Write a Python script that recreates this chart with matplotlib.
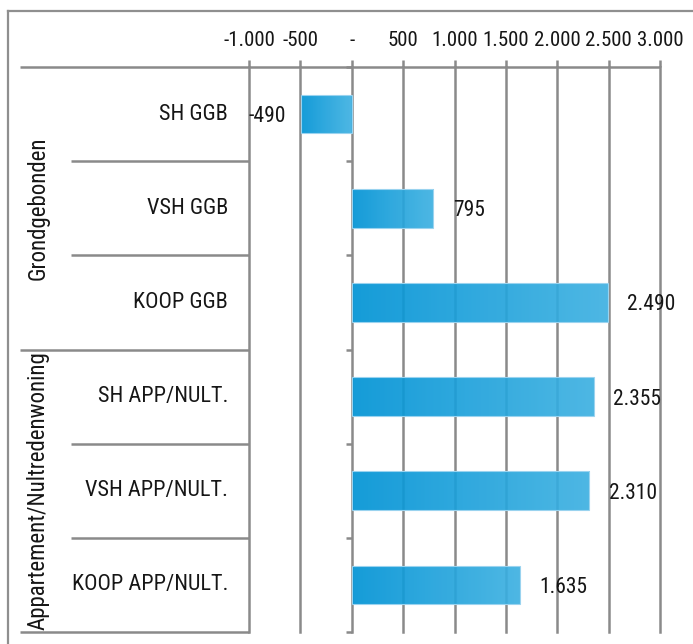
import matplotlib
matplotlib.use("Agg")
import matplotlib.pyplot as plt
import matplotlib.transforms as mtransforms
from matplotlib import font_manager
from matplotlib.colors import LinearSegmentedColormap
from matplotlib.lines import Line2D
import numpy as np

# --- data -------------------------------------------------------------
categories = ["SH GGB", "VSH GGB", "KOOP GGB",
              "SH APP/NULT.", "VSH APP/NULT.", "KOOP APP/NULT."]
values = [-490, 795, 2490, 2355, 2310, 1635]
value_labels = ["-490", "795", "2.490", "2.355", "2.310", "1.635"]
groups = ["Grondgebonden", "Appartement/Nultredenwoning"]
group_sizes = [3, 3]
x_ticks = [-1000, -500, 0, 500, 1000, 1500, 2000, 2500, 3000]
x_tick_labels = ["-1.000", "-500", "-", "500", "1.000", "1.500",
                 "2.000", "2.500", "3.000"]

# --- font: prefer a narrow sans ----------------------------------------
names = {f.name for f in font_manager.fontManager.ttflist}
family = next((n for n in ["Roboto Condensed", "Liberation Sans Narrow",
                           "Open Sans Condensed", "Roboto"] if n in names),
              "DejaVu Sans")
plt.rcParams["font.family"] = [family, "DejaVu Sans"]
FS_TICK = 15
FS_CAT = 16
FS_GROUP = 16.5
FS_VAL = 15.5
TXT = "#161616"
GRID = "#8a8a8a"

W, H = 693, 644
fig = plt.figure(figsize=(W / 100, H / 100), dpi=100)


def fx(px):
    return px / W


def fy(py):
    return 1 - py / H


ax = fig.add_axes([fx(249), fy(632), fx(660) - fx(249), fy(67) - fy(632)])
xlim = (x_ticks[0], x_ticks[-1])
ylim = (len(categories) - 0.5, -0.5)

# bars with a left-to-right blue gradient
ypos = np.arange(len(categories))
bars = ax.barh(ypos, values, height=0.41, color="none",
               edgecolor="#9ad3ef", linewidth=0.8, zorder=4)
cmap = LinearSegmentedColormap.from_list("bar_blue", ["#0093d5", "#3eb1e2"])
grad = np.linspace(0, 1, 256).reshape(1, -1)
for bar in bars:
    x0, y0, w, h = bar.get_x(), bar.get_y(), bar.get_width(), bar.get_height()
    xa, xb = min(x0, x0 + w), max(x0, x0 + w)
    im = ax.imshow(grad, extent=[xa, xb, y0 + h, y0], aspect="auto",
                   cmap=cmap, alpha=0.92, zorder=3, interpolation="bilinear")
    im.set_clip_path(bar)
ax.set_xlim(*xlim)
ax.set_ylim(*ylim)

# vertical grid lines
for t in x_ticks:
    ax.axvline(t, color=GRID, lw=1.8, zorder=1, clip_on=False)

for s in ax.spines.values():
    s.set_visible(False)

# x ticks on top
ax.xaxis.tick_top()
ax.set_xticks(x_ticks)
ax.set_xticklabels(x_tick_labels)
ax.tick_params(axis="x", direction="out", length=5, width=1.8, color=GRID,
               pad=7, labelsize=FS_TICK, labelcolor=TXT)

# small ticks on the zero line at the row boundaries
ax.spines["left"].set_position(("data", 0))
ax.set_yticks(np.arange(-0.5, len(categories), 1.0))
ax.set_yticklabels([])
ax.tick_params(axis="y", direction="out", length=4, width=1.8, color=GRID)

# table-like frame on the left
blend = mtransforms.blended_transform_factory(ax.transAxes, ax.transData)
x_group = (20 - 249) / 411
x_row = (71 - 249) / 411
ax.plot([x_group, 1], [1, 1], transform=ax.transAxes, color=GRID,
        lw=1.8, clip_on=False, solid_capstyle="butt")
start = 0
for size in group_sizes:
    for k in range(1, size):
        yb = start + k - 0.5
        ax.plot([x_row, 0], [yb, yb], transform=blend, color=GRID,
                lw=1.8, clip_on=False, solid_capstyle="butt")
    yb = start + size - 0.5
    ax.plot([x_group, 0], [yb, yb], transform=blend, color=GRID,
            lw=1.8, clip_on=False, solid_capstyle="butt")
    start += size

# category labels
for i, c in enumerate(categories):
    ax.text((228 - 249) / 411, i, c, transform=blend, ha="right",
            va="center", fontsize=FS_CAT, color=TXT)

# group labels
start = 0
for g, size in zip(groups, group_sizes):
    ax.text((38 - 249) / 411, start + (size - 1) / 2, g, transform=blend,
            rotation=90, ha="center", va="center", fontsize=FS_GROUP,
            color=TXT)
    start += size

# value labels
for i, (v, lab) in enumerate(zip(values, value_labels)):
    if v >= 0:
        ax.annotate(lab, xy=(v, i), xytext=(14, 0), textcoords="offset points",
                    ha="left", va="center_baseline", fontsize=FS_VAL,
                    color=TXT)
    else:
        ax.annotate(lab, xy=(v, i), xytext=(-11, 0), textcoords="offset points",
                    ha="right", va="center_baseline", fontsize=FS_VAL,
                    color=TXT)

# outer frame (left and top edges)
fig.add_artist(Line2D([fx(8), fx(8)], [fy(11), 0], color="#8f8f8f", lw=1.6))
fig.add_artist(Line2D([fx(8), 1], [fy(11), fy(11)], color="#8f8f8f", lw=1.6))

fig.savefig("out.png", dpi=100)
